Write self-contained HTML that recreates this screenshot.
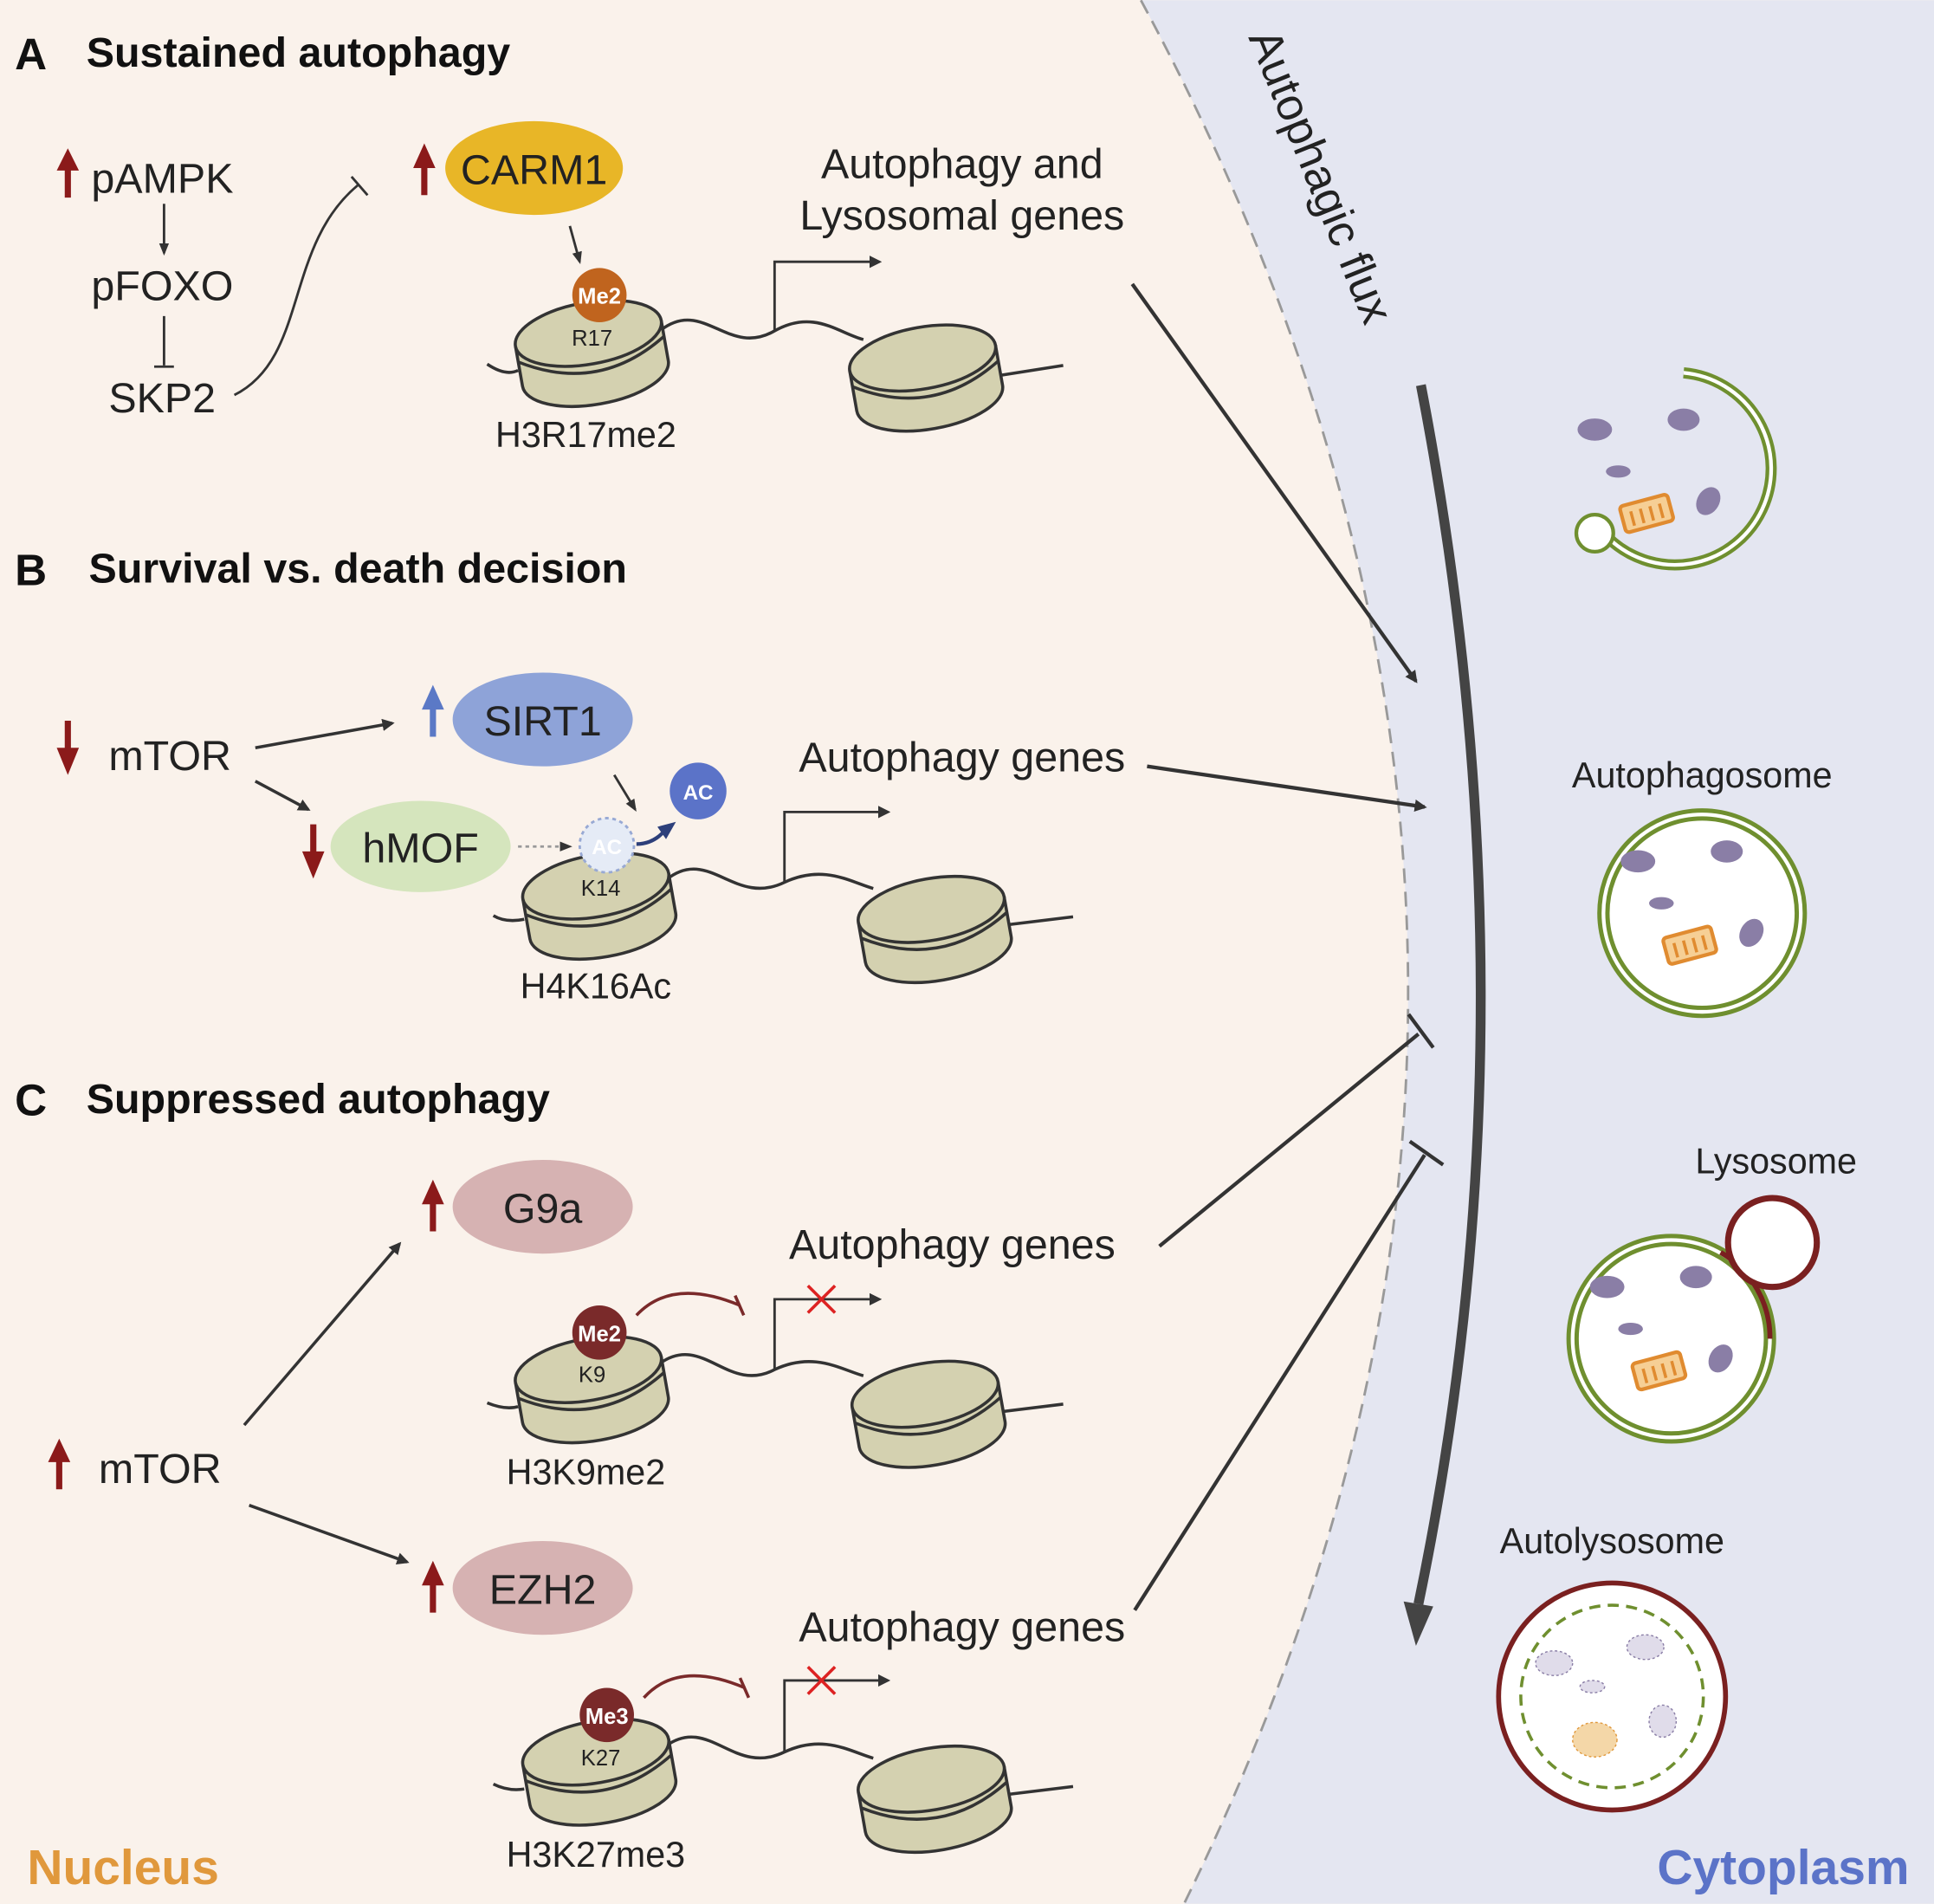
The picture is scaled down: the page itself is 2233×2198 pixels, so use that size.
<!DOCTYPE html>
<html><head><meta charset="utf-8"><style>
html,body{margin:0;padding:0;width:2233px;height:2198px;overflow:hidden;background:#faf2eb}
svg{display:block}
text{font-family:"Liberation Sans",Arial,sans-serif;fill:#222}
.b{font-weight:bold;fill:#111}
</style></head><body>
<svg width="2233" height="2198" viewBox="0 0 1568 1543" xmlns="http://www.w3.org/2000/svg">
<defs>
<marker id="ah" markerWidth="10" markerHeight="10" refX="8" refY="5" orient="auto" markerUnits="userSpaceOnUse" viewBox="0 0 10 10"><path d="M0,0 L10,5 L0,10z" fill="#333"/></marker>
<marker id="ahs" markerWidth="10" markerHeight="10" refX="8" refY="5" orient="auto" markerUnits="userSpaceOnUse" viewBox="0 0 10 10"><path d="M0,1 L10,5 L0,9z" fill="#333"/></marker>
<g id="nuc" transform="rotate(-10)">
<path d="M-60,0 L-60,33 A60,25 0 0 0 60,33 L60,0" fill="#d4d1b0" stroke="#333" stroke-width="2.5"/>
<ellipse cx="0" cy="0" rx="60" ry="25" fill="#d4d1b0" stroke="#333" stroke-width="2.5"/>
<path d="M-60,13 Q0,50 60,13" fill="none" stroke="#333" stroke-width="2.5"/>
</g>
<g id="org">
<ellipse cx="-52" cy="-42" rx="14" ry="9" fill="#8a7ea6"/>
<ellipse cx="20" cy="-50" rx="13" ry="9" fill="#8a7ea6"/>
<ellipse cx="-33" cy="-8" rx="10" ry="5" fill="#8a7ea6"/>
<ellipse cx="40" cy="16" rx="9" ry="12" fill="#8a7ea6" transform="rotate(30 40 16)"/>
<g transform="translate(-10,26) rotate(-15)"><rect x="-20" y="-11" width="40" height="22" rx="3" fill="#f6cf95" stroke="#e08b30" stroke-width="3"/><path d="M-12,-5v12M-4,-5v12M4,-5v12M12,-5v12" stroke="#e08b30" stroke-width="2.5"/></g>
</g>
</defs>
<rect width="1568" height="1543" fill="#faf2eb"/>
<path d="M925,0 Q1340,770 960,1543 L1568,1543 L1568,0z" fill="#e4e6f1"/>
<path d="M925,0 Q1340,770 960,1543" fill="none" stroke="#999" stroke-width="2" stroke-dasharray="12,7"/>
<text x="1012" y="30" font-size="37" transform="rotate(68 1012 30)">Autophagic flux</text>
<path d="M1152,312 Q1250,820 1150,1300" fill="none" stroke="#444" stroke-width="8"/>
<path d="M1138,1298 L1162,1302 L1148,1334z" fill="#444"/>

<!-- Panel A -->
<text x="12" y="56" font-size="36" class="b">A</text>
<text x="70" y="54" font-size="34" class="b">Sustained autophagy</text>
<path d="M55,160 V135" stroke="#8b1a1a" stroke-width="5"/><path d="M46,138 L55,120 L64,138z" fill="#8b1a1a"/>
<text x="74" y="156" font-size="34">pAMPK</text>
<line x1="133" y1="165" x2="133" y2="205" stroke="#333" stroke-width="2" marker-end="url(#ahs)"/>
<text x="74" y="243" font-size="34">pFOXO</text>
<line x1="133" y1="256" x2="133" y2="296" stroke="#333" stroke-width="2"/><line x1="125" y1="297" x2="141" y2="297" stroke="#333" stroke-width="2"/>
<text x="88" y="334" font-size="34">SKP2</text>
<path d="M190,320 C250,290 230,200 290,150" fill="none" stroke="#333" stroke-width="2"/>
<line x1="285" y1="143" x2="298" y2="158" stroke="#333" stroke-width="2"/>
<path d="M344,158 V133" stroke="#8b1a1a" stroke-width="5"/><path d="M335,136 L344,116 L353,136z" fill="#8b1a1a"/>
<ellipse cx="433" cy="136" rx="72" ry="38" fill="#e8b627"/>
<text x="433" y="149" font-size="34" text-anchor="middle">CARM1</text>
<line x1="462" y1="183" x2="470" y2="212" stroke="#333" stroke-width="2" marker-end="url(#ahs)"/>
<path d="M395,295 Q410,305 420,300" fill="none" stroke="#333" stroke-width="2.5"/>
<path d="M535,268 C570,240 590,290 628,268 C660,250 680,270 700,275" fill="none" stroke="#333" stroke-width="2.5"/>
<path d="M805,305 L862,296" stroke="#333" stroke-width="2.5"/>
<use href="#nuc" x="477" y="270"/>
<use href="#nuc" x="748" y="290"/>
<circle cx="486" cy="239" r="22" fill="#c0641e"/>
<text x="486" y="246" font-size="18" class="b" text-anchor="middle" style="fill:#fff">Me2</text>
<text x="480" y="280" font-size="18" text-anchor="middle">R17</text>
<text x="475" y="362" font-size="29" text-anchor="middle">H3R17me2</text>
<path d="M628,268 V212 H713" fill="none" stroke="#333" stroke-width="2" marker-end="url(#ah)"/>
<text x="780" y="144" font-size="34" text-anchor="middle">Autophagy and</text>
<text x="780" y="186" font-size="34" text-anchor="middle">Lysosomal genes</text>
<line x1="918" y1="230" x2="1148" y2="552" stroke="#333" stroke-width="3" marker-end="url(#ah)"/>

<!-- Panel B -->
<text x="12" y="474" font-size="36" class="b">B</text>
<text x="72" y="472" font-size="34" class="b">Survival vs. death decision</text>
<path d="M55,584 V612" stroke="#8b1a1a" stroke-width="5"/><path d="M46,606 L55,628 L64,606z" fill="#8b1a1a"/>
<text x="88" y="624" font-size="34">mTOR</text>
<line x1="207" y1="606" x2="318" y2="586" stroke="#333" stroke-width="2.5" marker-end="url(#ah)"/>
<line x1="207" y1="633" x2="250" y2="656" stroke="#333" stroke-width="2.5" marker-end="url(#ah)"/>
<path d="M351,597 V572" stroke="#5b79c6" stroke-width="5"/><path d="M342,575 L351,555 L360,575z" fill="#5b79c6"/>
<ellipse cx="440" cy="583" rx="73" ry="38" fill="#8ea3d8"/>
<text x="440" y="596" font-size="34" text-anchor="middle">SIRT1</text>
<path d="M254,668 V695" stroke="#8b1a1a" stroke-width="5"/><path d="M245,690 L254,712 L263,690z" fill="#8b1a1a"/>
<ellipse cx="341" cy="686" rx="73" ry="37" fill="#d5e5bd"/>
<text x="341" y="699" font-size="34" text-anchor="middle">hMOF</text>
<line x1="420" y1="686" x2="462" y2="686" stroke="#999" stroke-width="2" stroke-dasharray="3,3" marker-end="url(#ahs)"/>
<line x1="498" y1="628" x2="515" y2="656" stroke="#333" stroke-width="2" marker-end="url(#ahs)"/>
<path d="M400,742 Q410,748 425,745" fill="none" stroke="#333" stroke-width="2.5"/>
<path d="M540,713 C575,685 595,735 636,715 C668,700 690,715 708,720" fill="none" stroke="#333" stroke-width="2.5"/>
<path d="M812,750 L870,743" stroke="#333" stroke-width="2.5"/>
<use href="#nuc" x="483" y="718"/>
<use href="#nuc" x="755" y="737"/>
<circle cx="492" cy="685" r="22" fill="#e5ebf6" stroke="#98a9d4" stroke-width="2" stroke-dasharray="3,3"/>
<text x="492" y="692" font-size="17" class="b" text-anchor="middle" style="fill:#fff">AC</text>
<path d="M516,684 Q530,684 540,672" fill="none" stroke="#2d3f7a" stroke-width="3"/><path d="M533,670 L548,666 L540,680z" fill="#2d3f7a"/>
<circle cx="566" cy="641" r="23" fill="#5b73c8"/>
<text x="566" y="648" font-size="17" class="b" text-anchor="middle" style="fill:#fff">AC</text>
<text x="487" y="726" font-size="18" text-anchor="middle">K14</text>
<text x="483" y="809" font-size="29" text-anchor="middle">H4K16Ac</text>
<path d="M636,715 V658 H720" fill="none" stroke="#333" stroke-width="2" marker-end="url(#ah)"/>
<text x="780" y="625" font-size="34" text-anchor="middle">Autophagy genes</text>
<line x1="930" y1="621" x2="1155" y2="654" stroke="#333" stroke-width="3" marker-end="url(#ah)"/>

<!-- Panel C -->
<text x="12" y="904" font-size="36" class="b">C</text>
<text x="70" y="902" font-size="34" class="b">Suppressed autophagy</text>
<path d="M351,998 V973" stroke="#8b1a1a" stroke-width="5"/><path d="M342,976 L351,956 L360,976z" fill="#8b1a1a"/>
<ellipse cx="440" cy="978" rx="73" ry="38" fill="#d6b2b2"/>
<text x="440" y="991" font-size="34" text-anchor="middle">G9a</text>
<path d="M48,1207 V1182" stroke="#8b1a1a" stroke-width="5"/><path d="M39,1185 L48,1166 L57,1185z" fill="#8b1a1a"/>
<text x="80" y="1202" font-size="34">mTOR</text>
<line x1="198" y1="1155" x2="324" y2="1008" stroke="#333" stroke-width="2.5" marker-end="url(#ah)"/>
<line x1="202" y1="1220" x2="330" y2="1266" stroke="#333" stroke-width="2.5" marker-end="url(#ah)"/>
<path d="M351,1307 V1282" stroke="#8b1a1a" stroke-width="5"/><path d="M342,1285 L351,1265 L360,1285z" fill="#8b1a1a"/>
<ellipse cx="440" cy="1287" rx="73" ry="38" fill="#d6b2b2"/>
<text x="440" y="1300" font-size="34" text-anchor="middle">EZH2</text>

<path d="M395,1137 Q410,1143 420,1140" fill="none" stroke="#333" stroke-width="2.5"/>
<path d="M535,1105 C570,1080 590,1130 628,1110 C660,1095 682,1110 700,1115" fill="none" stroke="#333" stroke-width="2.5"/>
<path d="M805,1145 L862,1138" stroke="#333" stroke-width="2.5"/>
<use href="#nuc" x="477" y="1110"/>
<use href="#nuc" x="750" y="1130"/>
<circle cx="486" cy="1080" r="22" fill="#7a2a2a"/>
<text x="486" y="1087" font-size="18" class="b" text-anchor="middle" style="fill:#fff">Me2</text>
<text x="480" y="1120" font-size="18" text-anchor="middle">K9</text>
<text x="475" y="1203" font-size="29" text-anchor="middle">H3K9me2</text>
<path d="M516,1066 Q545,1035 600,1058" fill="none" stroke="#7a2a2a" stroke-width="2.5"/>
<line x1="596" y1="1050" x2="603" y2="1066" stroke="#7a2a2a" stroke-width="2.5"/>
<path d="M628,1110 V1053 H713" fill="none" stroke="#333" stroke-width="2" marker-end="url(#ah)"/>
<path d="M655,1042 L677,1064 M677,1042 L655,1064" stroke="#d22" stroke-width="2.5"/>
<text x="772" y="1020" font-size="34" text-anchor="middle">Autophagy genes</text>
<line x1="940" y1="1010" x2="1150" y2="838" stroke="#333" stroke-width="3"/>
<line x1="1142" y1="822" x2="1162" y2="849" stroke="#333" stroke-width="3"/>

<path d="M400,1446 Q412,1452 425,1450" fill="none" stroke="#333" stroke-width="2.5"/>
<path d="M540,1415 C575,1390 595,1440 636,1420 C668,1405 690,1420 708,1425" fill="none" stroke="#333" stroke-width="2.5"/>
<path d="M812,1455 L870,1448" stroke="#333" stroke-width="2.5"/>
<use href="#nuc" x="483" y="1420"/>
<use href="#nuc" x="755" y="1442"/>
<circle cx="492" cy="1390" r="22" fill="#7a2a2a"/>
<text x="492" y="1397" font-size="18" class="b" text-anchor="middle" style="fill:#fff">Me3</text>
<text x="487" y="1431" font-size="18" text-anchor="middle">K27</text>
<text x="483" y="1513" font-size="29" text-anchor="middle">H3K27me3</text>
<path d="M522,1376 Q550,1345 604,1368" fill="none" stroke="#7a2a2a" stroke-width="2.5"/>
<line x1="600" y1="1360" x2="607" y2="1376" stroke="#7a2a2a" stroke-width="2.5"/>
<path d="M636,1420 V1362 H720" fill="none" stroke="#333" stroke-width="2" marker-end="url(#ah)"/>
<path d="M655,1351 L677,1373 M677,1351 L655,1373" stroke="#d22" stroke-width="2.5"/>
<text x="780" y="1330" font-size="34" text-anchor="middle">Autophagy genes</text>
<line x1="920" y1="1305" x2="1155" y2="936" stroke="#333" stroke-width="3"/>
<line x1="1143" y1="925" x2="1170" y2="944" stroke="#333" stroke-width="3"/>

<text x="22" y="1527" font-size="40" class="b" style="fill:#e0983c">Nucleus</text>
<text x="1548" y="1527" font-size="40" class="b" text-anchor="end" style="fill:#5b73c8">Cytoplasm</text>

<!-- Organelles -->
<g transform="translate(1345,390)">
<path d="M20,-88 A78,78 0 1 1 -42,45" fill="none" stroke="#6f8f2f" stroke-width="9"/>
<path d="M20,-88 A78,78 0 1 1 -42,45" fill="none" stroke="#fff" stroke-width="3"/>
<circle cx="-52" cy="42" r="15" fill="#fff" stroke="#6f8f2f" stroke-width="3"/>
<use href="#org" x="0" y="0"/>
</g>
<text x="1380" y="638" font-size="29" text-anchor="middle">Autophagosome</text>
<g transform="translate(1380,740)">
<circle r="80" fill="#fff" stroke="#6f8f2f" stroke-width="10"/>
<circle r="80" fill="none" stroke="#fff" stroke-width="3"/>
<use href="#org"/>
</g>
<text x="1440" y="951" font-size="29" text-anchor="middle">Lysosome</text>
<g transform="translate(1355,1085)">
<circle r="80" fill="#fff" stroke="#6f8f2f" stroke-width="10"/>
<circle r="80" fill="none" stroke="#fff" stroke-width="3"/>
<path d="M40,-70 A80,80 0 0 1 80,0" fill="none" stroke="#7a2020" stroke-width="4"/>
<circle cx="82" cy="-78" r="36" fill="#fff" stroke="#7a2020" stroke-width="5"/>
<use href="#org"/>
</g>
<text x="1307" y="1259" font-size="29" text-anchor="middle">Autolysosome</text>
<g transform="translate(1307,1375)">
<circle r="92" fill="#fff" stroke="#7a2020" stroke-width="4"/>
<circle r="74" fill="none" stroke="#6f8f2f" stroke-width="2.5" stroke-dasharray="9,6"/>
<ellipse cx="-47" cy="-27" rx="15" ry="10" fill="#e0dcea" stroke="#8a7ea6" stroke-dasharray="2,2"/>
<ellipse cx="27" cy="-40" rx="15" ry="10" fill="#e0dcea" stroke="#8a7ea6" stroke-dasharray="2,2"/>
<ellipse cx="-16" cy="-8" rx="10" ry="5" fill="#e0dcea" stroke="#8a7ea6" stroke-dasharray="2,2"/>
<ellipse cx="41" cy="20" rx="11" ry="13" fill="#e0dcea" stroke="#8a7ea6" stroke-dasharray="2,2"/>
<ellipse cx="-14" cy="35" rx="18" ry="14" fill="#f4d7a8" stroke="#e0983c" stroke-dasharray="2,2"/>
</g>
</svg>
</body></html>
